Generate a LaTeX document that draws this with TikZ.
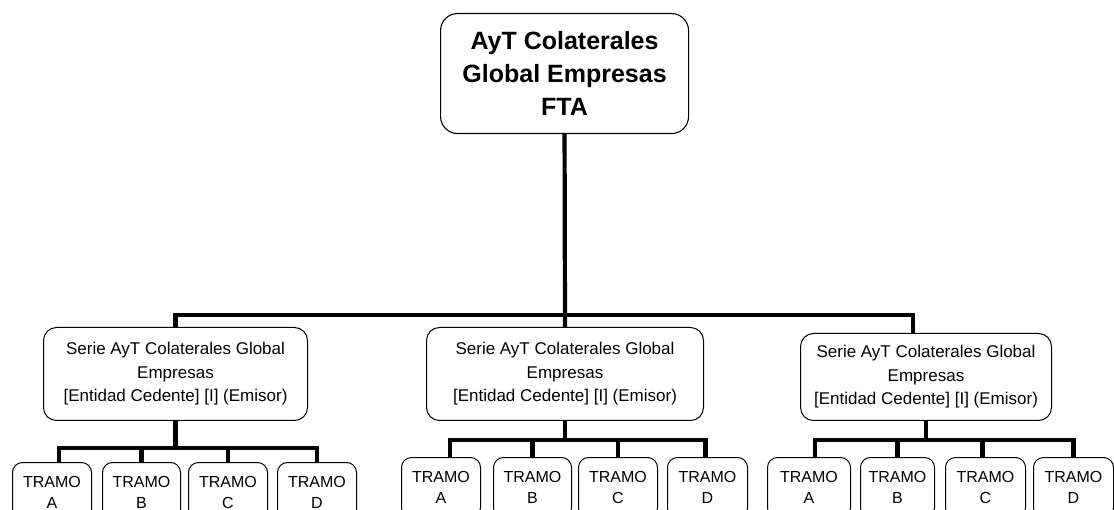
\documentclass[tikz,border=0pt]{standalone}
\usepackage{fontspec}
\setmainfont{Liberation Sans}
\begin{document}
\begin{tikzpicture}[x=1pt,y=-1pt,
  topbox/.style={draw, line width=1.1pt, rounded corners=17pt, anchor=north west, inner sep=0pt,
    minimum width=248pt, minimum height=120pt, align=center,
    font=\fontsize{25}{33}\selectfont\bfseries},
  serbox/.style={draw, line width=1pt, rounded corners=13pt, anchor=north west, inner sep=0pt,
    minimum height=93pt, align=center, font=\fontsize{17}{23.5}\selectfont},
  trbox/.style={draw, line width=1pt, rounded corners=10pt, anchor=north west, inner xsep=0pt,
    inner ysep=14pt, align=center, font=\fontsize{16}{21}\selectfont},
  conn/.style={draw, line width=4.2pt, line join=miter}]
\useasboundingbox (0,0) rectangle (1114,510);
\clip (0,0) rectangle (1114,510);

\node[topbox] (top) at (440,13) {AyT Colaterales\\Global Empresas\\FTA};

\node[serbox, minimum width=264pt] (s1) at (43,327) {Serie AyT Colaterales Global\\Empresas\\{}[Entidad Cedente] [I] (Emisor)};
\node[serbox, minimum width=277pt] (s2) at (426,327) {Serie AyT Colaterales Global\\Empresas\\{}[Entidad Cedente] [I] (Emisor)};
\node[serbox, minimum width=251pt, minimum height=87pt] (s3) at (800,333) {Serie AyT Colaterales Global\\Empresas\\{}[Entidad Cedente] [I] (Emisor)};

% tramos group 1
\node[trbox, minimum width=79pt] (t1a) at (12,462) {TRAMO\\A};
\node[trbox, minimum width=78pt] (t1b) at (102,462) {TRAMO\\B};
\node[trbox, minimum width=79pt] (t1c) at (188,462) {TRAMO\\C};
\node[trbox, minimum width=79pt] (t1d) at (277,462) {TRAMO\\D};
% tramos group 2
\node[trbox, minimum width=79pt] (t2a) at (401,457) {TRAMO\\A};
\node[trbox, minimum width=78pt] (t2b) at (493,457) {TRAMO\\B};
\node[trbox, minimum width=79pt] (t2c) at (578,457) {TRAMO\\C};
\node[trbox, minimum width=80pt] (t2d) at (667,457) {TRAMO\\D};
% tramos group 3
\node[trbox, minimum width=83pt] (t3a) at (767,457) {TRAMO\\A};
\node[trbox, minimum width=74pt] (t3b) at (860,457) {TRAMO\\B};
\node[trbox, minimum width=80pt] (t3c) at (945,457) {TRAMO\\C};
\node[trbox, minimum width=80pt] (t3d) at (1033,457) {TRAMO\\D};

% buses
\coordinate (b0) at (564,315);
\coordinate (b1) at (174,448);
\coordinate (b2) at (563,440);
\coordinate (b3) at (927,440);

\draw[conn] (top.south) -- (s2.north);
\draw[conn] (s1.north) |- (b0) -| ([xshift=-13pt]s3.north);

\draw[conn] (s1.south) -- (s1.south |- b1);
\draw[conn] ([xshift=7pt]t1a.north) |- (b1) -| (t1d.north);
\draw[conn] (t1b.north) -- (t1b.north |- b1);
\draw[conn] (t1c.north) -- (t1c.north |- b1);

\draw[conn] (s2.south) -- (s2.south |- b2);
\draw[conn] ([xshift=9pt]t2a.north) |- (b2) -| ([xshift=-2pt]t2d.north);
\draw[conn] (t2b.north) -- (t2b.north |- b2);
\draw[conn] (t2c.north) -- (t2c.north |- b2);

\draw[conn] (s3.south) -- (s3.south |- b3);
\draw[conn] ([xshift=6pt]t3a.north) |- (b3) -| (t3d.north);
\draw[conn] (t3b.north) -- (t3b.north |- b3);
\draw[conn] ([xshift=-3pt]t3c.north) -- ([xshift=-3pt]t3c.north |- b3);
\end{tikzpicture}
\end{document}
